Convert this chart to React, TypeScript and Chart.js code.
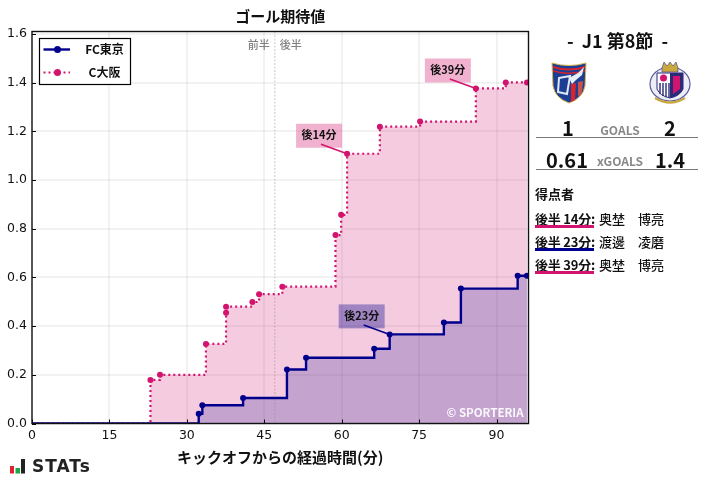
import React, { useEffect, useRef } from "react";
import { Chart, registerables } from "chart.js";

Chart.register(...registerables);

const JP = '"Noto Sans CJK JP", "Noto Sans", sans-serif';
const NAVY = "#00008b";
const PINK = "#d2146e";

const chartTitle = "ゴール期待値";
const xAxisTitle = "キックオフからの経過時間(分)";
const homeName = "FC東京";
const awayName = "C大阪";
const halfLabels = ["前半", "後半"];
const halfTimeMinute = 47.05;
const watermark = "© SPORTERIA";

const xTickValues = [0, 15, 30, 45, 60, 75, 90];
const yTickValues = [0, 0.2, 0.4, 0.6, 0.8, 1.0, 1.2, 1.4, 1.6];

const homeMinutes = [0, 32.3, 33, 40.9, 49.4, 53.1, 66.3, 69.3, 79.8, 83.1, 94.1, 95.9];
const homeXg = [0, 0.04, 0.075, 0.105, 0.222, 0.27, 0.307, 0.366, 0.415, 0.554, 0.607, 0.607];
const awayMinutes = [0, 22.95, 24.8, 33.7, 37.6, 37.6, 42.7, 44, 48.5, 58.8, 59.9, 61.05, 67.4, 75.2, 86, 91.8, 95.9];
const awayXg = [0, 0.179, 0.2, 0.327, 0.455, 0.48, 0.499, 0.531, 0.562, 0.774, 0.857, 1.108, 1.219, 1.24, 1.376, 1.401, 1.401];

const goalLabels = ["後14分", "後23分", "後39分"];
const goalSeries = [1, 0, 1];
const goalPointIndex = [11, 7, 14];

const scorerMinutes = ["後半 14分:", "後半 23分:", "後半 39分:"];
const scorerNames = ["奥埜　博亮", "渡邊　凌磨", "奥埜　博亮"];
const scorerColors = [PINK, NAVY, PINK];

const overlay = {
  id: "overlay",
  afterDatasetsDraw(chart: any) {
    const { ctx, chartArea: a, scales } = chart;
    const x = scales.x;
    const y = scales.y;
    ctx.save();

    // half time marker
    const hx = x.getPixelForValue(halfTimeMinute);
    ctx.strokeStyle = "rgba(120,120,120,0.4)";
    ctx.lineWidth = 1;
    ctx.setLineDash([2, 1.5]);
    ctx.beginPath();
    ctx.moveTo(hx, a.top);
    ctx.lineTo(hx, a.bottom);
    ctx.stroke();
    ctx.setLineDash([]);
    ctx.font = `500 11px ${JP}`;
    ctx.fillStyle = "#808080";
    ctx.textBaseline = "middle";
    ctx.textAlign = "right";
    ctx.fillText(halfLabels[0], hx - 5, 45);
    ctx.textAlign = "left";
    ctx.fillText(halfLabels[1], hx + 5, 45);

    // goal callouts
    goalLabels.forEach((label, i) => {
      const s = goalSeries[i];
      const ds = chart.data.datasets[s];
      const p = ds.data[goalPointIndex[i]];
      const px = x.getPixelForValue(p.x);
      const py = y.getPixelForValue(p.y);
      ctx.fillStyle = s === 0 ? "rgba(0,0,139,0.35)" : "rgba(210,20,110,0.33)";
      ctx.fillRect(px - 51, py - 30, 46, 24);
      ctx.strokeStyle = s === 0 ? NAVY : PINK;
      ctx.lineWidth = 1.6;
      ctx.beginPath();
      ctx.moveTo(px - 26, py - 9.5);
      ctx.lineTo(px, py);
      ctx.stroke();
      ctx.fillStyle = "#111";
      ctx.font = `700 11px ${JP}`;
      ctx.textAlign = "center";
      ctx.textBaseline = "middle";
      ctx.fillText(label, px - 28, py - 18.5);
    });

    // watermark
    ctx.fillStyle = "rgba(255,255,255,0.92)";
    ctx.font = `700 11.5px ${JP}`;
    ctx.textAlign = "right";
    ctx.textBaseline = "middle";
    ctx.fillText(watermark, a.right - 5, 413);

    // inward ticks
    ctx.strokeStyle = "#000";
    ctx.lineWidth = 1;
    ctx.beginPath();
    x.ticks.forEach((t: any) => {
      const p = Math.round(x.getPixelForValue(t.value)) + 0.5;
      ctx.moveTo(p, a.bottom);
      ctx.lineTo(p, a.bottom - 4);
    });
    y.ticks.forEach((t: any) => {
      const p = Math.round(y.getPixelForValue(t.value)) + 0.5;
      ctx.moveTo(a.left, p);
      ctx.lineTo(a.left + 4, p);
    });
    ctx.stroke();

    // frame
    ctx.lineWidth = 1.4;
    ctx.strokeStyle = "#111";
    ctx.strokeRect(a.left, a.top, a.right - a.left, a.bottom - a.top);

    // legend
    ctx.fillStyle = "#fff";
    ctx.fillRect(39.5, 38.5, 91, 46);
    ctx.strokeStyle = "#000";
    ctx.lineWidth = 1.2;
    ctx.strokeRect(39.5, 38.5, 91, 46);
    [0, 1].forEach((i) => {
      const ds = chart.data.datasets[i];
      const ly = i === 0 ? 49.5 : 72.5;
      ctx.strokeStyle = ds.borderColor;
      ctx.lineWidth = ds.borderWidth;
      ctx.setLineDash(ds.borderDash || []);
      ctx.beginPath();
      ctx.moveTo(43.5, ly);
      ctx.lineTo(70, ly);
      ctx.stroke();
      ctx.setLineDash([]);
      ctx.fillStyle = ds.borderColor;
      ctx.beginPath();
      ctx.arc(57.5, ly, 3.5, 0, Math.PI * 2);
      ctx.fill();
      ctx.fillStyle = "#111";
      ctx.font = `700 12px ${JP}`;
      ctx.textAlign = "center";
      ctx.textBaseline = "middle";
      ctx.fillText(ds.label, 104.5, ly);
    });
    ctx.restore();
  },
};

function TokyoCrest() {
  return (
    <svg width={36} height={42} viewBox="0 0 36 42" style={{ position: "absolute", left: 551, top: 62 }}>
      <path d="M1 1 Q18 6 35 1 L34 24 Q32 36 18 41 Q4 36 2 24 Z" fill="#1c3f94" stroke="#d8b24a" strokeWidth="1" />
      <path d="M2 4 Q18 9 34 4 L34 6 Q18 11 2 6 Z" fill="#d9232e" />
      <path d="M2 8 Q18 13 34 8 L34 9.5 Q18 14.5 2 9.5 Z" fill="#d9232e" />
      <path d="M20 22 L25 21 L24 38 Q22 39 20 40 Z" fill="#d9232e" />
      <path d="M27 20 L32 19 L31 30 Q30 33 27 35 Z" fill="#c9524a" />
      <path d="M8 16 L19 14 L16 32 L7 30 Z" fill="none" stroke="#dfe8f6" strokeWidth="2" />
      <path d="M18 16 L27 11 L33 5 L31 13 L25 18 L21 22 Z" fill="#e8eef8" />
    </svg>
  );
}

function CerezoCrest() {
  return (
    <svg width={44} height={44} viewBox="0 0 44 44" style={{ position: "absolute", left: 648, top: 61 }}>
      <ellipse cx="22" cy="23" rx="20" ry="17" fill="#eeedf6" stroke="#5a5aa0" strokeWidth="1.2" />
      <path d="M14 7 L16 1 L19 5 L22 1 L25 5 L28 1 L30 7 L30 11 L14 11 Z" fill="#c9a93f" stroke="#3b3a86" strokeWidth="0.6" />
      <path d="M9 12 L35 12 L35 28 Q32 35 22 37 Q12 35 9 28 Z" fill="#fff" stroke="#2b2a78" strokeWidth="1" />
      <path d="M22 12 L35 12 L35 28 Q32 35 22 37 Z" fill="#2b2a78" />
      <path d="M25 15 L32 15 L32 28 L25 33 Z" fill="#d2146e" />
      <circle cx="15.5" cy="17" r="3.5" fill="#d2146e" />
      <path d="M12 22 V33 M15 22 V35 M18 22 V36 M21 22 V37" stroke="#2b2a78" strokeWidth="1.4" />
      <path d="M7 37 Q22 46 37 37" fill="none" stroke="#c9a93f" strokeWidth="2.4" />
    </svg>
  );
}

const abs = (left: number, top: number, extra: any = {}) => ({
  position: "absolute" as const,
  left,
  top,
  fontFamily: JP,
  lineHeight: 1,
  whiteSpace: "pre" as const,
  ...extra,
});

const centered = (cx: number, cy: number, size: number, weight: number, color: string) =>
  abs(cx - 60, cy - size / 2, { width: 120, textAlign: "center", fontSize: size, fontWeight: weight, color });

export default function App() {
  const ref = useRef<HTMLCanvasElement>(null);

  useEffect(() => {
    const markerRadius = (c: any) => (c.dataIndex === 0 ? 0 : 3);
    const chart = new Chart(ref.current as HTMLCanvasElement, {
      type: "line",
      data: {
        datasets: [
          {
            label: homeName,
            data: homeMinutes.map((m, i) => ({ x: m, y: homeXg[i] })),
            borderColor: NAVY,
            backgroundColor: "rgba(0,0,139,0.2)",
            pointBackgroundColor: NAVY,
            pointBorderWidth: 0,
            borderWidth: 2.4,
            pointRadius: markerRadius,
            stepped: true,
            fill: "origin",
            order: 0,
          },
          {
            label: awayName,
            data: awayMinutes.map((m, i) => ({ x: m, y: awayXg[i] })),
            borderColor: PINK,
            backgroundColor: "rgba(210,20,110,0.22)",
            pointBackgroundColor: PINK,
            pointBorderWidth: 0,
            borderWidth: 2.2,
            borderDash: [2, 3],
            pointRadius: markerRadius,
            stepped: true,
            fill: "origin",
            order: 1,
          },
        ],
      } as any,
      options: {
        animation: false,
        responsive: false,
        layout: { padding: { left: 0, right: 178.5, top: 0, bottom: 0 } },
        plugins: {
          legend: { display: false },
          tooltip: { enabled: false },
          title: {
            display: true,
            text: chartTitle,
            fullSize: false,
            color: "#111",
            font: { family: JP, size: 15, weight: "bold" },
            padding: { top: 7.5, bottom: 6 },
          },
        },
        scales: {
          x: {
            type: "linear",
            min: 0,
            max: 96.2,
            afterFit(s: any) {
              s.height = 55.5;
            },
            afterBuildTicks(s: any) {
              s.ticks = xTickValues.map((value) => ({ value }));
            },
            border: { display: false },
            grid: { color: "rgba(0,0,0,0.05)", lineWidth: 2, drawTicks: false },
            ticks: {
              maxRotation: 0,
              padding: 5,
              color: "#111",
              font: { family: "DejaVu Sans", size: 12.5 },
            },
            title: {
              display: true,
              text: xAxisTitle,
              color: "#111",
              font: { family: JP, size: 15, weight: "bold" },
              padding: { top: 0, bottom: 13 },
            },
          },
          y: {
            min: 0,
            max: 1.61,
            afterFit(s: any) {
              s.width = 32;
            },
            afterBuildTicks(s: any) {
              s.ticks = yTickValues.map((value) => ({ value }));
            },
            border: { display: false },
            grid: { color: "rgba(0,0,0,0.05)", lineWidth: 2, drawTicks: false },
            ticks: {
              padding: 5,
              color: "#111",
              font: { family: "DejaVu Sans", size: 12.5 },
              callback: (v: any) => Number(v).toFixed(1),
            },
          },
        },
      },
      plugins: [overlay],
    } as any);
    return () => chart.destroy();
  }, []);

  return (
    <div style={{ position: "absolute", left: 0, top: 0, width: 707, height: 479, overflow: "hidden", background: "#fff" }}>
      <canvas ref={ref} width={707} height={479} style={{ position: "absolute", left: 0, top: 0, display: "block" }} />

      <div style={centered(617.5, 40, 18, 700, "#111")}>{"-  J1 第8節  -"}</div>
      <TokyoCrest />
      <CerezoCrest />

      <div style={centered(568, 128, 20, 700, "#111")}>1</div>
      <div style={centered(620, 130, 12, 700, "#888")}>GOALS</div>
      <div style={centered(670, 128, 20, 700, "#111")}>2</div>
      <div style={{ position: "absolute", left: 536, top: 137, width: 162, height: 1, background: "#777" }} />

      <div style={centered(567, 160, 20, 700, "#111")}>0.61</div>
      <div style={centered(620, 161, 12, 700, "#888")}>xGOALS</div>
      <div style={centered(670, 160, 20, 700, "#111")}>1.4</div>
      <div style={{ position: "absolute", left: 536, top: 169, width: 162, height: 1, background: "#777" }} />

      <div style={abs(535, 187, { fontSize: 13, fontWeight: 700, color: "#111" })}>得点者</div>
      {scorerMinutes.map((m, i) => (
        <React.Fragment key={m}>
          <div style={abs(535, 212 + i * 23, { fontSize: 13, fontWeight: 700, color: "#111", letterSpacing: -0.2 })}>{m}</div>
          <div style={abs(599, 212 + i * 23, { fontSize: 13, fontWeight: 500, color: "#111" })}>{scorerNames[i]}</div>
          <div style={{ position: "absolute", left: 535, top: 225 + i * 23, width: 59, height: 3, background: scorerColors[i] }} />
        </React.Fragment>
      ))}

      <svg width={16} height={16} viewBox="0 0 16 16" style={{ position: "absolute", left: 10, top: 459 }}>
        <rect x="0" y="7" width="4" height="7.5" fill="#e0202a" />
        <rect x="5.5" y="9" width="4.5" height="5.5" fill="#18a84a" />
        <rect x="11" y="0" width="4" height="14.5" fill="#222" />
      </svg>
      <div style={abs(32, 458, { fontFamily: '"DejaVu Sans", sans-serif', fontSize: 17, fontWeight: 700, color: "#222", letterSpacing: 1 })}>STATs</div>
    </div>
  );
}
